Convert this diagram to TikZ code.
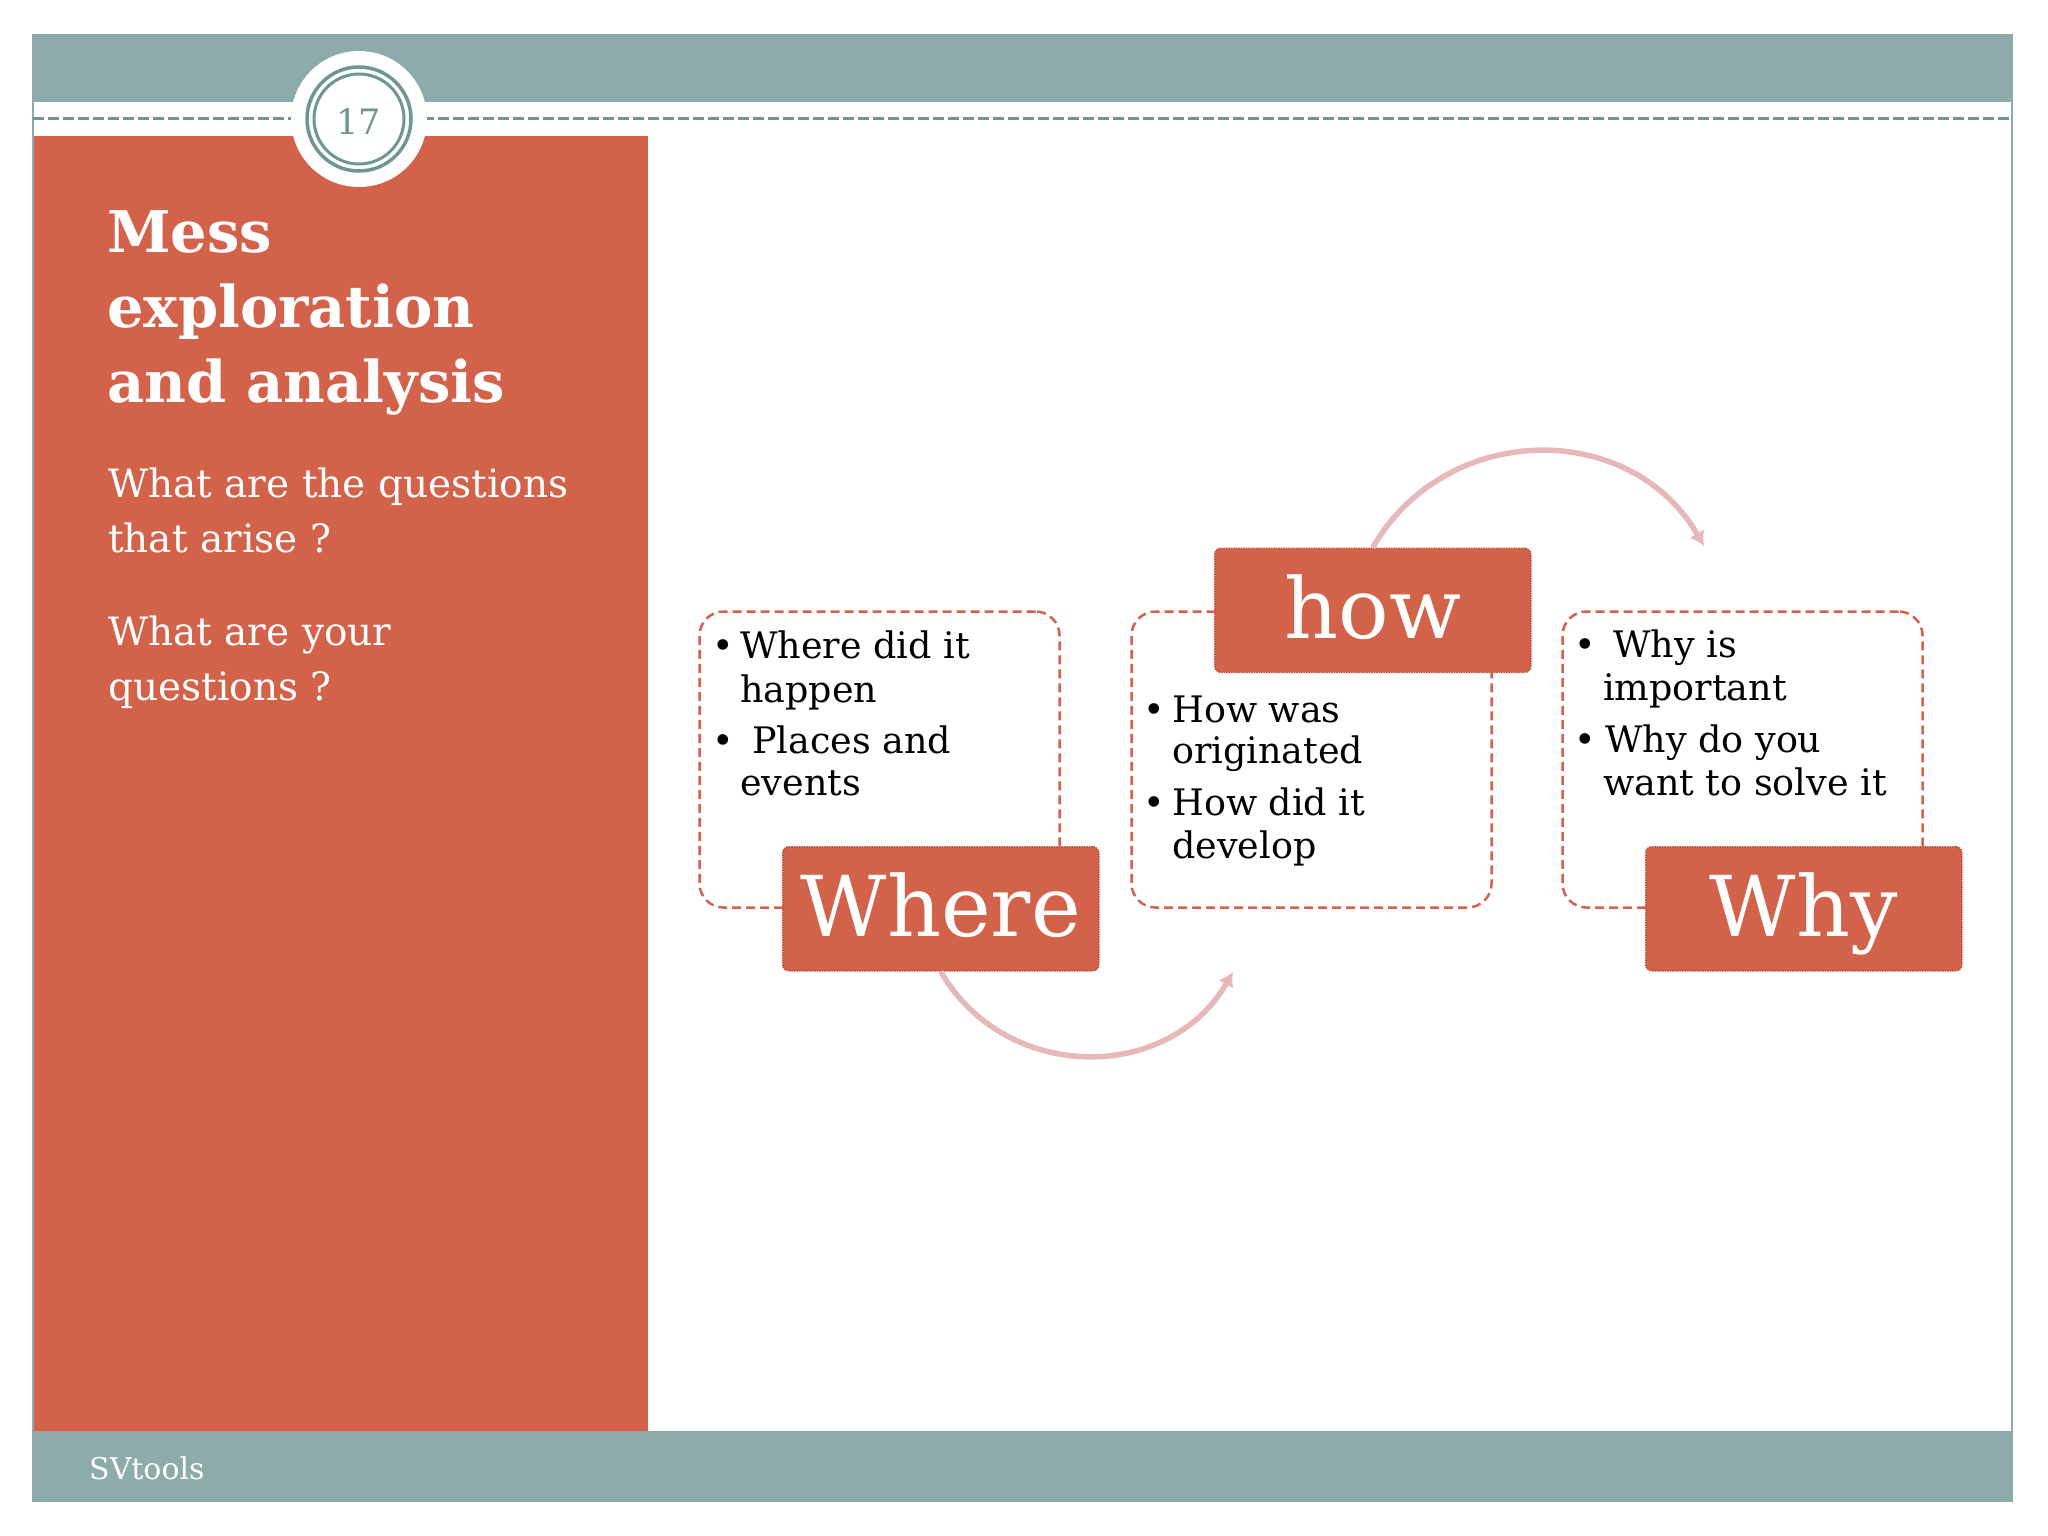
\documentclass[tikz,border=0pt]{standalone}
\usepackage{fontspec}
\setmainfont{DejaVu Serif}
\usetikzlibrary{arrows.meta}
\usetikzlibrary{positioning}
\definecolor{slideteal}{HTML}{8DABAB}
\definecolor{ringteal}{HTML}{6F9792}
\definecolor{slideorange}{HTML}{D2634A}
\definecolor{tagred}{HTML}{C24A3A}
\definecolor{arcpink}{HTML}{E6B8B7}

\begin{document}
\begin{tikzpicture}[%
        x=1pt, y=1pt,
        every node/.style={inner sep=0pt},
        panel/.style={rectangle, rounded corners=24pt, draw=slideorange, line width=2.5pt,
          dash pattern=on 9pt off 5pt, minimum width=360pt, minimum height=296pt},
        tag/.style={rectangle, rounded corners=6pt, fill=slideorange, draw=tagred, line width=1.5pt,
          densely dotted, minimum width=316pt, minimum height=124pt, text=white,
          font=\fontsize{84}{90}\selectfont, text height=56pt, text depth=0pt},
        itemtxt/.style={anchor=base west, text=black, font=\fontsize{36.5}{44}\selectfont},
        lefttxt/.style={anchor=base west, text=white, font=\fontsize{39}{55}\selectfont},
        titletxt/.style={anchor=base west, text=white, font=\bfseries\fontsize{57.5}{75}\selectfont},
        turn/.style={->, draw=arcpink, line width=5.5pt, looseness=1.13},
        >={Latex[length=14pt,width=17pt]}
      ]
      \useasboundingbox (0,0) rectangle (2048,-1536);
      \fill[white] (0,0) rectangle (2048,-1536);
      % slide frame
      \fill[slideteal] (33,-35) rectangle (2012,-102);
      \fill[slideorange] (33,-136) rectangle (648,-1431);
      \fill[slideteal] (33,-1431) rectangle (2012,-1501);
      \draw[slideteal, line width=2pt] (33,-35) rectangle (2012,-1501);
      \draw[ringteal, line width=3pt, dash pattern=on 11pt off 4pt] (33,-119) -- (2012,-119);
      \fill[white] (359,-119) circle[radius=68pt];
      \draw[ringteal, line width=3.5pt] (359,-119) circle[radius=52pt];
      \draw[ringteal, line width=3pt] (359,-119) circle[radius=45pt];
      \node [text=ringteal, font=\fontsize{35}{35}\selectfont] (pagenum) at (359,-122) {17};
      % left column
      \node [titletxt] (title1) at (107,-252) {Mess};
      \node [titletxt] (title2) at (107,-327) {exploration};
      \node [titletxt] (title3) at (107,-402) {and analysis};
      \node [lefttxt] (sub1) at (108,-497) {What are the questions};
      \node [lefttxt] (sub2) at (108,-552) {that arise ?};
      \node [lefttxt] (sub3) at (108,-645) {What are your};
      \node [lefttxt] (sub4) at (108,-700) {questions ?};
      \node [anchor=base west, text=white, font=\fontsize{30}{30}\selectfont] (footer) at (89,-1479) {SVtools};
      % dashed panels
      \node [panel] (wpanel) at (879.5,-759.5) {};
      \node [panel] (hpanel) at (1311.5,-759.5) {};
      \node [panel] (ypanel) at (1742.5,-759.5) {};
      % where
      \node [itemtxt] (wb1) at (712,-658) {\textbullet};
      \node [itemtxt] (wl1) at (740,-658) {Where did it};
      \node [itemtxt] (wl2) at (740,-702) {happen};
      \node [itemtxt] (wb2) at (712,-753) {\textbullet};
      \node [itemtxt] (wl3) at (752,-753) {Places and};
      \node [itemtxt] (wl4) at (740,-795) {events};
      % how
      \node [itemtxt] (hb1) at (1143,-722) {\textbullet};
      \node [itemtxt] (hl1) at (1172,-722) {How was};
      \node [itemtxt] (hl2) at (1172,-763) {originated};
      \node [itemtxt] (hb2) at (1143,-815) {\textbullet};
      \node [itemtxt] (hl3) at (1172,-815) {How did it};
      \node [itemtxt] (hl4) at (1172,-858) {develop};
      % why
      \node [itemtxt] (yb1) at (1574,-657) {\textbullet};
      \node [itemtxt] (yl1) at (1613,-657) {Why is};
      \node [itemtxt] (yl2) at (1603,-700) {important};
      \node [itemtxt] (yb2) at (1574,-752) {\textbullet};
      \node [itemtxt] (yl3) at (1605,-752) {Why do you};
      \node [itemtxt] (yl4) at (1603,-795) {want to solve it};
      % tags
      \node [tag] (where) at ([xshift=-120pt]wpanel.south east) {Where};
      \node [tag] (how) at ([xshift=-120pt]hpanel.north east) {how};
      \node [tag] (why) at ([xshift=-120pt]ypanel.south east) {Why};
      \coordinate (howend) at (1704,-546);
      \coordinate (whereend) at (1233,-972);
      \draw [turn] (how.north) to[out=60, in=120] (howend);
      \draw [turn] (where.south) to[out=-60, in=-120] (whereend);
\end{tikzpicture}
\end{document}
